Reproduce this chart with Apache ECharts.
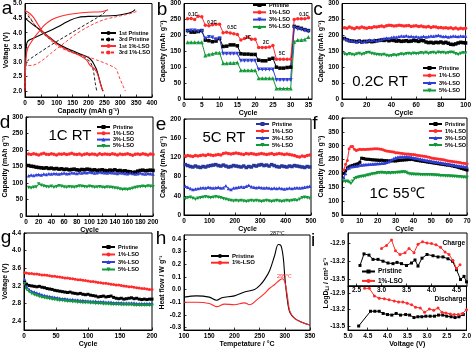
<!DOCTYPE html>
<html><head><meta charset="utf-8">
<script src="https://cdn.jsdelivr.net/npm/echarts@6/dist/echarts.min.js"></script>
<style>html,body{margin:0;padding:0;background:#fff}#c{width:474px;height:349px}</style>
</head><body><div id="c"></div><script>
// ---------------- DATA ----------------
// (a) charge/discharge curves [capacity mAh/g, voltage V]
const aPris1C = [[0,2.0],[1,2.8],[3,3.4],[6,3.65],[12,3.74],[30,3.83],[60,3.98],[90,4.13],[120,4.3],[142,4.43],[170,4.53],[200,4.56],[250,4.57],[285,4.59],[310,4.63],[335,4.7],[347,4.79]];
const aPris1D = [[0,4.5],[20,4.32],[50,4.08],[80,3.82],[100,3.65],[125,3.5],[150,3.38],[180,3.25],[200,3.15],[212,3.02],[218,2.9],[225,2.75],[232,2.5],[238,2.25],[245,2.0]];
const aPris3C = [[0,2.0],[2,2.75],[5,3.0],[25,3.17],[50,3.35],[75,3.53],[100,3.7],[125,3.86],[150,4.02],[175,4.18],[200,4.34],[225,4.5],[245,4.64],[258,4.78]];
const aPris3D = [[0,4.72],[15,4.5],[40,4.15],[70,3.85],[100,3.63],[130,3.45],[160,3.3],[190,3.15],[205,3.0],[212,2.85],[217,2.6],[221,2.3],[226,2.0]];
const aLso1C = [[0,2.0],[2,2.9],[5,3.3],[10,3.5],[18,3.65],[30,3.85],[45,4.05],[60,4.25],[80,4.42],[100,4.52],[125,4.6],[160,4.66],[200,4.7],[240,4.72],[255,4.76],[262,4.79]];
const aLso1D = [[0,4.75],[10,4.7],[25,4.55],[40,4.3],[55,4.05],[75,3.85],[100,3.62],[125,3.45],[150,3.32],[175,3.2],[195,3.05],[205,2.88],[215,2.8],[222,2.72],[228,2.6],[235,2.35],[242,2.1],[247,2.0]];
const aLso3C = [[0,2.1],[2,2.85],[8,2.88],[20,2.88],[40,2.95],[60,3.1],[80,3.28],[100,3.45],[130,3.7],[160,3.95],[190,4.15],[220,4.32],[250,4.45],[280,4.53],[310,4.6],[340,4.68],[357,4.76]];
const aLso3D = [[0,4.78],[15,4.55],[35,4.2],[60,3.95],[85,3.7],[110,3.5],[140,3.35],[170,3.25],[200,3.17],[230,3.05],[260,2.92],[280,2.82],[288,2.75],[293,2.6],[300,2.4],[308,2.2],[316,2.0]];

// (b) rate capability, cycles 1..35
const bPris = [215,210,210,212,215,185,183,180,182,190,165,166,170,170,167,142,141,141,140,140,122,120,120,125,128,100,97,97,99,100,228,225,222,218,215];
const bLso1 = [252,253,250,260,258,232,230,233,235,235,208,210,207,205,203,185,190,195,188,188,162,162,162,163,168,125,125,125,125,125,250,252,252,252,255];
const bLso3 = [212,215,215,213,213,190,195,193,188,190,142,142,142,142,142,120,120,120,120,120,93,93,93,93,93,60,60,60,60,60,225,220,218,215,212];
const bLso5 = [178,178,178,178,178,137,140,142,145,145,112,112,113,113,115,90,90,90,90,90,65,65,65,65,65,33,33,33,33,33,180,185,185,187,195];
const bRates = ['0.1C','0.2C','0.5C','1C','2C','5C','0.1C'];

// (c) 0.2C RT, every 2nd cycle
const cPris = [190,186,183,182,181,180,182,179,181,180,182,180,181,183,184,185,184,186,183,185,184,182,183,181,182,183,181,182,184,183,181,184,183,179,177,178,176,178,177,179,176,178,175,172,171,173,176,178,177,176];
const cLso1 = [224,222,226,223,221,225,223,226,224,222,225,224,227,226,228,229,227,230,232,231,229,230,232,231,229,230,231,228,229,230,228,229,227,226,228,225,227,226,224,225,223,224,222,224,221,223,220,222,221,222];
const cLso3 = [190,188,185,183,182,180,184,179,181,183,185,184,186,183,185,188,190,192,191,193,195,194,196,198,197,199,196,197,195,196,194,195,197,195,196,198,197,199,200,198,196,197,195,196,198,197,196,198,197,198];
const cLso5 = [141,139,142,140,138,141,143,140,142,145,146,143,141,140,139,138,140,137,135,136,138,137,139,141,140,142,143,141,144,142,143,145,144,146,143,145,146,144,147,145,146,144,145,147,146,142,140,143,145,144];

// (d) 1C RT, every 4th cycle
const dPris = [153,151,150,148,147,146,145,146,144,145,143,144,142,143,141,142,140,141,142,140,139,141,140,142,141,139,140,138,139,140,138,137,139,138,140,137,138,136,137,135,134,132,133,136,138,139,137,138,139,138];
const dLso1 = [188,186,189,187,185,188,190,187,186,189,187,185,188,187,189,186,188,190,187,186,188,185,187,189,186,188,187,185,189,186,188,187,186,189,187,185,188,186,187,189,186,184,187,188,186,189,187,185,188,186];
const dLso3 = [122,124,123,125,126,124,127,126,128,127,129,128,127,129,130,128,129,131,130,129,131,130,132,131,133,132,130,131,133,132,131,130,132,131,130,129,131,130,129,128,130,129,127,128,130,128,127,129,128,127];
const dLso5 = [86,85,87,88,97,93,91,89,88,90,87,89,92,90,88,87,89,88,87,89,91,90,89,88,90,89,87,88,89,87,86,88,87,86,85,84,82,80,81,80,82,84,86,88,89,90,89,91,90,89];

// (e) 5C RT, every 10th cycle
const ePris = [105,103,101,100,102,100,99,101,100,102,103,104,105,103,102,104,102,100,101,103,102,101,100,102,99,101,100,103,102,104,105,103,104,102,105,103,101,100,102,101,100,102,101,103,102,101,100,99,101,100];
const eLso1 = [123,124,123,122,124,123,124,125,124,126,125,124,125,126,125,128,129,128,127,128,129,128,127,126,128,127,128,127,126,127,128,127,126,127,128,126,127,128,127,126,127,126,125,124,122,121,123,122,124,125];
const eLso3 = [60,58,55,53,54,55,56,57,56,58,57,56,57,58,56,57,61,55,53,56,57,58,59,58,60,62,59,58,57,58,57,56,57,56,55,56,55,56,55,54,55,56,55,56,57,56,57,58,59,60];
const eLso5 = [34,36,37,35,33,35,36,37,38,37,36,37,38,37,36,34,33,31,30,29,30,29,30,29,28,29,30,29,30,29,28,29,30,29,28,29,30,29,28,29,30,29,30,31,30,33,36,37,36,35];

// (f) 1C 55 C, cycles 1..70
const fPris = [200,210,220,224,227,229,231,233,235,240,255,254,252,251,251,250,249,249,248,248,247,248,247,246,246,245,245,246,245,245,246,247,248,248,249,249,250,250,251,250,248,247,246,245,244,243,242,241,240,239,238,237,236,235,234,233,232,231,230,230,228,227,225,224,222,220,218,216,214,212];
const fLso1 = [212,233,247,289,297,297,287,283,285,287,286,287,286,287,287,288,288,289,289,289,288,287,285,283,281,280,279,278,277,275,275,274,273,272,271,270,270,269,268,268,267,266,265,264,263,262,261,259,258,256,255,254,253,252,251,250,249,248,246,245,244,243,242,241,240,239,238,237,236,235];
const fLso3 = [185,200,218,220,224,225,226,227,228,230,230,231,232,232,233,233,234,234,235,236,236,237,237,238,240,242,245,250,254,257,258,259,260,260,260,261,260,259,258,257,256,255,253,252,250,249,248,247,246,244,243,242,241,240,239,238,237,236,234,233,232,231,230,229,228,227,226,225,224,224];
const fLso5 = [172,170,172,168,164,172,181,184,186,188,189,190,191,193,194,196,198,199,200,202,202,203,202,202,201,202,201,202,202,202,203,203,204,205,205,203,200,198,197,197,196,196,196,195,195,195,195,195,195,195,194,194,193,193,192,192,192,191,191,191,190,190,189,189,188,188,187,186,186,185];

// (g) average discharge voltage, cycle 1 then every 4th
const gPris = [3.28,3.24,3.21,3.20,3.19,3.18,3.19,3.17,3.16,3.14,3.13,3.12,3.10,3.09,3.08,3.07,3.06,3.05,3.06,3.04,3.03,3.02,3.03,3.01,3.00,3.01,2.99,2.98,2.97,2.95,2.96,2.97,2.95,2.96,2.97,2.94,2.92,2.91,2.92,2.90,2.91,2.92,2.93,2.91,2.92,2.90,2.89,2.90,2.89,2.90,2.90];
const gLso1 = [3.50,3.49,3.48,3.48,3.47,3.47,3.46,3.45,3.45,3.44,3.43,3.42,3.42,3.41,3.40,3.39,3.38,3.38,3.37,3.36,3.35,3.34,3.34,3.33,3.32,3.31,3.30,3.30,3.29,3.28,3.27,3.26,3.26,3.25,3.24,3.23,3.22,3.22,3.21,3.20,3.19,3.18,3.18,3.17,3.16,3.15,3.14,3.14,3.13,3.12,3.12];
const gLso3 = [3.35,3.18,3.12,3.08,3.06,3.04,3.02,3.00,2.98,2.97,2.96,2.95,2.94,2.93,2.92,2.91,2.91,2.90,2.89,2.89,2.88,2.88,2.87,2.87,2.86,2.86,2.85,2.85,2.85,2.84,2.84,2.84,2.83,2.83,2.83,2.82,2.82,2.82,2.82,2.81,2.81,2.81,2.81,2.81,2.80,2.80,2.80,2.80,2.80,2.80,2.80];
const gLso5 = [3.25,3.12,3.07,3.03,3.00,2.98,2.96,2.94,2.93,2.92,2.91,2.90,2.89,2.88,2.87,2.87,2.86,2.85,2.85,2.84,2.84,2.83,2.83,2.82,2.82,2.82,2.81,2.81,2.80,2.80,2.80,2.79,2.79,2.79,2.78,2.78,2.78,2.78,2.77,2.77,2.77,2.77,2.77,2.76,2.76,2.76,2.76,2.76,2.76,2.76,2.76];

// (h) DSC [temperature C, heat flow W/g]
const hPris = [[100,-0.06],[125,-0.05],[150,-0.06],[165,-0.085],[175,-0.065],[200,-0.05],[220,-0.02],[240,0.0],[250,0.03],[260,0.08],[270,0.15],[280,0.27],[287,0.355],[292,0.35],[297,0.25],[300,0.1],[305,-0.08],[310,-0.18],[320,-0.23],[335,-0.26],[350,-0.28]];
const hLso1 = [[100,-0.10],[125,-0.10],[150,-0.11],[165,-0.135],[180,-0.115],[200,-0.12],[220,-0.105],[230,-0.12],[245,-0.08],[260,-0.03],[270,0.01],[280,0.04],[290,0.075],[295,0.085],[300,0.06],[305,-0.05],[310,-0.17],[320,-0.23],[335,-0.26],[350,-0.28]];

// (i) GITT diffusion coefficient [voltage V, logD]
const iPrisC = [[2.57,-13.27],[2.65,-13.08],[2.75,-13.10],[2.83,-13.17],[2.93,-13.17],[3.03,-13.20],[3.13,-13.23],[3.23,-13.24],[3.31,-13.22],[3.40,-13.24],[3.50,-13.27],[3.60,-13.23],[3.67,-13.18],[3.73,-13.28],[3.81,-13.15],[3.91,-13.09],[4.03,-13.11],[4.13,-13.13],[4.23,-13.13],[4.33,-13.16],[4.42,-13.20],[4.50,-13.34],[4.58,-13.50],[4.65,-13.45],[4.70,-13.54]];
const iLsoC = [[3.00,-12.99],[3.10,-12.94],[3.20,-12.85],[3.28,-13.03],[3.37,-13.09],[3.47,-13.06],[3.55,-12.99],[3.65,-13.06],[3.73,-12.92],[3.82,-12.88],[3.91,-12.90],[4.00,-12.91],[4.09,-12.93],[4.18,-12.97],[4.27,-13.05],[4.35,-13.09],[4.43,-13.19],[4.50,-13.32],[4.57,-13.26]];
const iPrisD = [[4.73,-13.50],[4.43,-13.23],[4.32,-13.23],[4.21,-13.23],[4.11,-13.27],[4.00,-13.29],[3.89,-13.30],[3.78,-13.27],[3.67,-13.30],[3.54,-13.29],[3.44,-13.30],[3.33,-13.345],[3.23,-13.33],[3.13,-13.33],[3.03,-13.32],[2.92,-13.32],[2.81,-13.32],[2.71,-13.30],[2.60,-13.30],[2.50,-13.32],[2.39,-13.33],[2.29,-13.345],[2.19,-13.33],[2.08,-13.29]];
const iLsoD = [[4.58,-12.81],[4.46,-12.81],[4.33,-12.95],[4.21,-12.99],[4.08,-13.00],[3.96,-13.02],[3.83,-13.04],[3.72,-13.06],[3.61,-13.06],[3.50,-13.085],[3.39,-13.11],[3.29,-13.155],[3.17,-13.17],[3.06,-13.25],[2.94,-13.19],[2.83,-13.21],[2.72,-13.17],[2.62,-13.25],[2.52,-13.26],[2.41,-13.28],[2.31,-13.29],[2.21,-13.29],[2.10,-13.27],[2.00,-13.20]];

// ---------------- STYLE / LAYOUT ----------------
const FONT = '"Liberation Sans", Arial, sans-serif';
const BLACK='#000000', RED='#ff2a2a', BLUE='#2f3fd8', GREEN='#12993a', NAVY='#27369a';
const SQ='rect', CI='circle', TU='triangle', TD='path://M0,0 L10,0 L5,9 Z';

const gridBoxes = [
 [25,3,127,94],[184,2,128,97],[342,2,125,97],
 [26,117,127,99],[184,119,127,96],[342,118,125,97],
 [24,233,128,97],[184,235,126,96],[348,233,119,53],[348,286,119,47]
];
const grid = gridBoxes.map(b=>({left:b[0],top:b[1],width:b[2],height:b[3],show:true,borderColor:'#000',borderWidth:1,backgroundColor:'rgba(0,0,0,0)'}));

function axis(gi, min, max, o) {
  o = o || {};
  const a = {
    type:'value', gridIndex:gi, min:min, max:max, inverse:!!o.inverse, scale:true,
    axisLine:{show:true,onZero:false,lineStyle:{color:'#000',width:1}},
    axisTick:{show:true,inside:true,length:2.5,lineStyle:{color:'#000',width:0.8}},
    axisLabel:{show:true,fontSize:6.5,fontWeight:'bold',color:'#000',margin:o.margin||3,fontFamily:FONT},
    splitLine:{show:false},
    nameTextStyle:{fontSize:7,fontWeight:'bold',color:'#000',fontFamily:FONT}
  };
  if (o.ticks) { a.axisLabel.customValues = o.ticks; a.axisTick.customValues = o.ticks; }
  if (o.interval) a.interval = o.interval;
  if (o.fix !== undefined) a.axisLabel.formatter = v => Number(v).toFixed(o.fix);
  if (o.name) { a.name = o.name; a.nameLocation = 'middle'; a.nameGap = o.gap; }
  return a;
}
function range(a,b,s){const r=[];for(let v=a;v<=b+1e-9;v+=s)r.push(Math.round(v*100)/100);return r;}
const CAP = 'Capacity (mAh g\u207B\u00B9)';

const xAxis = [
  axis(0,0,400,{interval:50,name:CAP,gap:9}),
  axis(1,0,36,{ticks:range(0,35,5),name:'Cycle',gap:8}),
  axis(2,0,100,{interval:20,name:'Cycle',gap:8}),
  axis(3,0,200,{interval:20,name:'Cycle',gap:8}),
  axis(4,0,500,{interval:100,name:'Cycle',gap:8}),
  axis(5,0,70,{interval:10,name:'Cycle',gap:8}),
  axis(6,0,200,{interval:50,name:'Cycle',gap:9}),
  axis(7,100,350,{interval:50,name:'Tempetature / \u00B0C',gap:10}),
  axis(8,2.33,4.71,{ticks:range(2.5,4.5,0.5),fix:1,margin:1}),
  axis(9,2.0,5.0,{ticks:range(2.0,5.0,0.5),fix:1,inverse:true,name:'Voltage (V)',gap:10})
];
const yAxis = [
  axis(0,1.8,5.0,{ticks:range(2.0,5.0,0.5),fix:1,name:'Voltage (V)',gap:15}),
  axis(1,0,300,{interval:50,name:CAP,gap:17}),
  axis(2,0,300,{interval:50,name:CAP,gap:17}),
  axis(3,0,300,{interval:50,name:CAP,gap:16}),
  axis(4,0,200,{interval:40,name:CAP,gap:16}),
  axis(5,50,400,{interval:50,name:CAP,gap:16}),
  axis(6,2.2,4.4,{ticks:range(2.4,4.4,0.4),fix:1,name:'Voltage (V)',gap:15}),
  axis(7,-0.32,0.43,{ticks:range(-0.3,0.4,0.1),fix:1,name:'Heat flow / W g\u207B\u00B9',gap:16}),
  axis(8,-13.608,-12.736,{ticks:[-13.5,-13.2,-12.9],fix:1}),
  axis(9,-13.575,-12.767,{ticks:[-13.5,-13.2,-12.9],fix:1})
];

function ser(name, gi, data, color, o) {
  o = o || {};
  return {
    type:'line', name:name, xAxisIndex:gi, yAxisIndex:gi, data:data,
    symbol:o.symbol||'none', symbolSize:o.size||3.5, showSymbol:!!o.symbol,
    smooth:o.smooth||false, clip:true, silent:true, animation:false,
    lineStyle:{color:color,width:o.width||1,type:o.dash||'solid'},
    itemStyle:{color:color,borderWidth:0}, z:o.z||2
  };
}
function zipX(xs, ys){return ys.map((v,i)=>[xs[i],v]);}
const bX = bPris.map((_,i)=>i+1);
const cX = cPris.map((_,i)=>2*(i+1));
const dX = dPris.map((_,i)=>4*(i+1));
const eX = ePris.map((_,i)=>10*i+5);
const fX = fPris.map((_,i)=>i+1);
const gX = gPris.map((_,i)=>i===0?1:4*i);

const series = [
  ser('1st Pristine#a',0,aPris1C,BLACK,{smooth:0.3,width:1.1}),
  ser('1st Pristine#a',0,aPris1D,BLACK,{smooth:0.3,width:1.1}),
  ser('3rd Pristine#a',0,aPris3C,BLACK,{smooth:0.3,dash:[3,2],width:0.9}),
  ser('3rd Pristine#a',0,aPris3D,BLACK,{smooth:0.3,dash:[3,2],width:0.9}),
  ser('1st 1%-LSO#a',0,aLso1C,RED,{smooth:0.3,width:1.1}),
  ser('1st 1%-LSO#a',0,aLso1D,RED,{smooth:0.3,width:1.1}),
  ser('3rd 1%-LSO#a',0,aLso3C,RED,{smooth:0.3,dash:[3,2],width:0.9}),
  ser('3rd 1%-LSO#a',0,aLso3D,RED,{smooth:0.3,dash:[3,2],width:0.9}),

  ser('Pristine#b',1,zipX(bX,bPris),BLACK,{symbol:SQ,size:3.5}),
  ser('1%-LSO#b',1,zipX(bX,bLso1),RED,{symbol:CI,size:3.5}),
  ser('3%-LSO#b',1,zipX(bX,bLso3),BLUE,{symbol:TD,size:4}),
  ser('5%-LSO#b',1,zipX(bX,bLso5),GREEN,{symbol:TU,size:4}),

  ser('Pristine#c',2,zipX(cX,cPris),BLACK,{symbol:SQ}),
  ser('1%-LSO#c',2,zipX(cX,cLso1),RED,{symbol:CI}),
  ser('3%-LSO#c',2,zipX(cX,cLso3),BLUE,{symbol:TU}),
  ser('5%-LSO#c',2,zipX(cX,cLso5),GREEN,{symbol:TD}),

  ser('Pristine#d',3,zipX(dX,dPris),BLACK,{symbol:SQ}),
  ser('1%-LSO#d',3,zipX(dX,dLso1),RED,{symbol:CI}),
  ser('3%-LSO#d',3,zipX(dX,dLso3),BLUE,{symbol:TU}),
  ser('5%-LSO#d',3,zipX(dX,dLso5),GREEN,{symbol:TD}),

  ser('Pristine#e',4,zipX(eX,ePris),NAVY,{symbol:SQ}),
  ser('1%-LSO#e',4,zipX(eX,eLso1),RED,{symbol:CI}),
  ser('3%-LSO#e',4,zipX(eX,eLso3),BLUE,{symbol:TU}),
  ser('5%-LSO#e',4,zipX(eX,eLso5),GREEN,{symbol:TD}),

  ser('Pristine#f',5,zipX(fX,fPris),BLACK,{symbol:SQ,size:3}),
  ser('1%-LSO#f',5,zipX(fX,fLso1),RED,{symbol:CI,size:3}),
  ser('3%-LSO#f',5,zipX(fX,fLso3),BLUE,{symbol:TU,size:3.5}),
  ser('5%-LSO#f',5,zipX(fX,fLso5),GREEN,{symbol:TD,size:3.5}),

  ser('Pristine#g',6,zipX(gX,gPris),BLACK,{symbol:SQ,size:3}),
  ser('1%-LSO#g',6,zipX(gX,gLso1),RED,{symbol:CI,size:3}),
  ser('3%-LSO#g',6,zipX(gX,gLso3),BLUE,{symbol:TU,size:3.5}),
  ser('5%-LSO#g',6,zipX(gX,gLso5),GREEN,{symbol:TD,size:3.5}),

  ser('Pristine#h',7,hPris,BLACK,{smooth:0.35,width:1.1}),
  ser('1%-LSO#h',7,hLso1,RED,{smooth:0.35,width:1.1}),

  ser('Pristine#i',8,iPrisC,BLACK,{symbol:SQ,size:3}),
  ser('1%-LSO#i',8,iLsoC,RED,{symbol:CI,size:3}),
  ser('Pristine#i2',9,iPrisD,BLACK,{symbol:SQ,size:3}),
  ser('1%-LSO#i2',9,iLsoD,RED,{symbol:CI,size:3})
];

function lg(names, left, top, gap, o) {
  o = o || {};
  return {
    data:names, left:left, top:top, orient:'vertical', itemWidth:o.w||13, itemHeight:5, itemGap:gap,
    padding:0, selectedMode:false, backgroundColor:'rgba(0,0,0,0)',
    textStyle:{fontSize:o.fs||5.5,fontWeight:'bold',color:'#000',fontFamily:FONT,padding:[0,0,0,-2]},
    formatter:n=>n.split('#')[0]
  };
}
const legend = [
  lg(['1st Pristine#a','3rd Pristine#a','1st 1%-LSO#a','3rd 1%-LSO#a'],100,30,0.5,{w:15}),
  lg(['Pristine#b','1%-LSO#b','3%-LSO#b','5%-LSO#b'],252,2,1.3),
  lg(['Pristine#c','1%-LSO#c','3%-LSO#c','5%-LSO#c'],422,65,1.5),
  lg(['Pristine#d','1%-LSO#d','3%-LSO#d','5%-LSO#d'],96,124,0.3),
  lg(['Pristine#e','1%-LSO#e','3%-LSO#e','5%-LSO#e'],255,121,1),
  lg(['Pristine#f','1%-LSO#f','3%-LSO#f','5%-LSO#f'],428,121,1),
  lg(['Pristine#g','1%-LSO#g','3%-LSO#g','5%-LSO#g'],101,244,1.5),
  lg(['Pristine#h','1%-LSO#h'],210,253,0.7,{w:18,fs:6}),
  lg(['Pristine#i','1%-LSO#i'],361,268,2.4,{w:13,fs:6.5})
];

function T(text, x, y, size, o) {
  o = o || {};
  const el = {type:'text', x:x, y:y, silent:true, z:50, rotation:o.rot||0,
    style:{text:text, fill:o.color||'#000', font:(o.bold?'bold ':'')+size+'px '+FONT,
      textAlign:o.align||'center', textVerticalAlign:'middle', align:o.align||'center', verticalAlign:'middle'}};
  if (o.rich) el.style.rich = o.rich;
  return el;
}
const bRatePos = [[193,15],[212,23],[232,28],[248,38],[266,43],[282,54],[304,15]];
const iRich = {n:{fontSize:7,fontWeight:'bold',fontFamily:FONT,fill:'#000',color:'#000'},
               s:{fontSize:5,fontWeight:'bold',fontFamily:FONT,fill:'#000',color:'#000',padding:[4,0,0,0]}};
const graphic = [
  T('a',7,9,19),T('b',162,10,19),T('c',318,10,19),
  T('d',5,123,19),T('e',161,125,19),T('f',315,124,19),
  T('g',6,238,19),T('h',161,239,19),T('i',313,241,19),
  T('0.2C RT',380,82,15),T('1C RT',70,136,15),T('5C RT',224,138,15),T('1C 55\u2103',397,194,15),
  T('287\u2103',277,233,5.5),T('295\u2103',284,276,5.5,{color:RED}),
  T('Charge',465,243,6.5,{bold:true,align:'right'}),T('Discharge',466,299,6.5,{bold:true,align:'right'}),
  T('{n|LogD}{s|Li}{n| / cm\u00B2 s\u207B\u00B9}',326,283,7,{bold:true,rot:Math.PI/2,rich:iRich})
].concat(bRates.map((r,i)=>T(r,bRatePos[i][0],bRatePos[i][1],4.5,{bold:true})));

const chart = echarts.init(document.getElementById('c'), null, {renderer:'canvas'});
chart.setOption({animation:false, backgroundColor:'#fff', grid, xAxis, yAxis, series, legend, graphic});
</script></body></html>
